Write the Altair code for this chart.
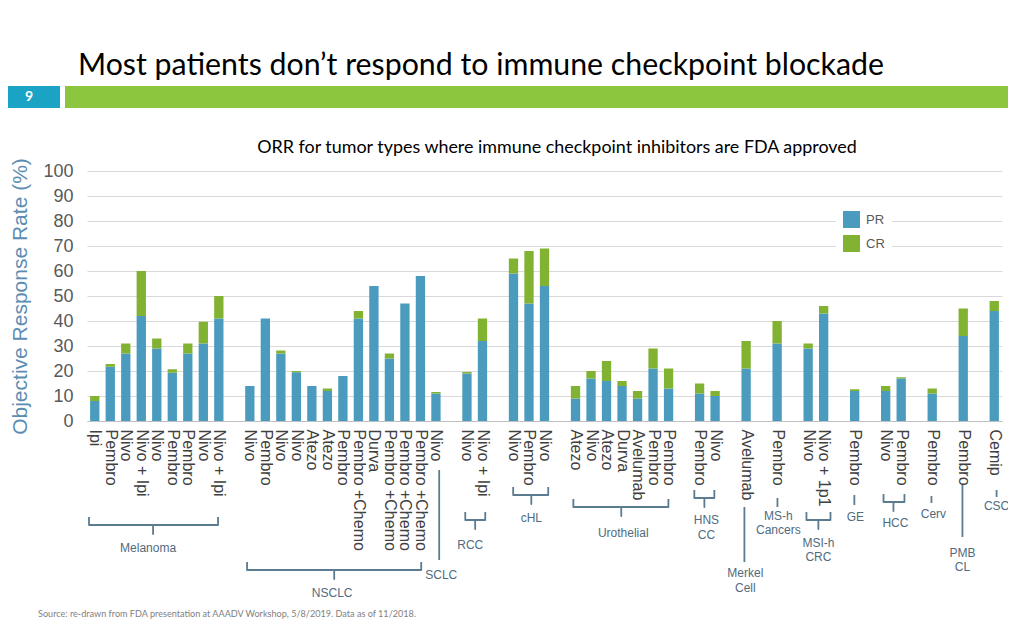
import altair as alt
import pandas as pd

# ---------------- data (one slot per category, "" = empty spacer slot) ----------------
labels = ["Ipi", "Pembro", "Nivo", "Nivo + Ipi", "Nivo", "Pembro", "Pembro", "Nivo", "Nivo + Ipi", "",
          "Nivo", "Pembro", "Nivo", "Nivo", "Atezo", "Atezo", "Pembro", "Pembro +Chemo", "Durva",
          "Pembro +Chemo", "Pembro +Chemo", "Pembro +Chemo",
          "Nivo", "",
          "Nivo", "Nivo + Ipi", "",
          "Nivo", "Pembro", "Nivo", "",
          "Atezo", "Nivo", "Atezo", "Durva", "Avelumab", "Pembro", "Pembro", "",
          "Pembro", "Nivo", "",
          "Avelumab", "",
          "Pembro", "",
          "Nivo", "Nivo + 1p1", "",
          "Pembro", "",
          "Nivo", "Pembro", "",
          "Pembro", "",
          "Pembro", "",
          "Cemip"]

pr = [8, 21.7, 27, 42, 29, 19.3, 27, 31, 41, None,
      14, 41, 27, 19.5, 14, 12, 18, 41, 54, 25, 47, 58,
      11, None,
      19, 32, None,
      59, 47, 54, None,
      9, 17, 16, 14, 9, 21, 13, None,
      11, 10, None,
      21, None,
      31, None,
      29, 43, None,
      12, None,
      12, 17, None,
      11, None,
      34, None,
      44]

cr = [2, 1.1, 4, 18, 4, 1.4, 4, 8.7, 9, None,
      0, 0, 1.2, 0.5, 0, 1, 0, 3, 0, 2, 0, 0,
      0.6, None,
      0.6, 9, None,
      6, 21, 15, None,
      5, 3, 8, 2, 3, 8, 8, None,
      4, 2, None,
      11, None,
      9, None,
      2, 3, None,
      0.7, None,
      2, 0.5, None,
      2, None,
      11, None,
      4]

series = ["PR", "CR"]
colors = ["#4A9BBD", "#82B232"]

# tumour-group annotations (in slot / value units)
brackets = [  # name lines, left, right, line level, tick position, label position, label levels
    (["Melanoma"], -0.37, 7.95, -41.6, 3.76, 3.44, [-50.8]),
    (["NSCLC"], 9.82, 21.05, -59.6, 15.44, 15.31, [-68.8]),
    (["RCC"], 23.89, 25.18, -39.6, 24.53, 24.21, [-49.6]),
    (["cHL"], 26.98, 29.24, -29.6, 28.15, 28.15, [-38.8]),
    (["Urothelial"], 30.86, 36.99, -34.4, 33.95, 34.08, [-44.8]),
    (["HNS", "CC"], 38.66, 39.95, -30.8, 39.31, 39.44, [-39.6, -45.6]),
    (["MSI-h", "CRC"], 45.89, 47.44, -39.6, 46.66, 46.66, [-48.8, -54.4]),
    (["HCC"], 50.86, 52.21, -32.4, 51.5, 51.63, [-40.8]),
]
stems = [  # name lines, position, top, bottom, label position, label levels
    (["SCLC"], 22.21, -19.6, -55.6, 22.34, [-61.6]),
    (["Merkel", "Cell"], 41.89, -34.4, -56.4, 41.95, [-60.8, -66.8]),
    (["MS-h", "Cancers"], 44.02, -30.8, -34.4, 44.08, [-38.0, -43.6]),
    (["GE"], 48.98, -29.6, -33.6, 49.05, [-38.4]),
    (["Cerv"], 53.95, -30.0, -32.8, 54.08, [-37.2]),
    (["PMB", "CL"], 55.95, -25.6, -46.4, 55.95, [-52.8, -58.4]),
    (["CSC"], 58.15, -27.6, -30.4, 58.15, [-34.0]),
]

# ---------------- tables ----------------
rows = []
for i, (p, c) in enumerate(zip(pr, cr)):
    if p is None:
        continue
    rows.append({"slot": i, "type": "PR", "lo": 0, "hi": p})
    if c and c > 0:
        rows.append({"slot": i, "type": "CR", "lo": p, "hi": p + c})
bars_df = pd.DataFrame(rows)

HOOK, TICK = 3.2, 3.6
line_rows, text_rows = [], []
g = 0
for names, x0, x1, lvl, tx, lx, lys in brackets:
    pts = [(x0, lvl + HOOK), (x0, lvl), (tx, lvl), (tx, lvl - TICK), (tx, lvl), (x1, lvl), (x1, lvl + HOOK)]
    for k, (sx, sv) in enumerate(pts):
        line_rows.append({"gid": g, "ord": k, "slot": sx, "v": sv})
    for nm, ly in zip(names, lys):
        text_rows.append({"slot": lx, "v": ly, "t": nm})
    g += 1
for names, sx, top, bot, lx, lys in stems:
    line_rows.append({"gid": g, "ord": 0, "slot": sx, "v": top})
    line_rows.append({"gid": g, "ord": 1, "slot": sx, "v": bot})
    for nm, ly in zip(names, lys):
        text_rows.append({"slot": lx, "v": ly, "t": nm})
    g += 1
lines_df = pd.DataFrame(line_rows)
text_df = pd.DataFrame(text_rows)

label_values = [i for i, l in enumerate(labels) if l]
label_expr = "[" + ",".join("'" + l + "'" for l in labels) + "][datum.value]"

AX_FONT = "Liberation Sans"
xscale = alt.Scale(domain=[-0.5, len(labels) - 0.5], nice=False, zero=False)
yscale = alt.Scale(domain=[0, 100], nice=False)

xaxis = alt.Axis(
    values=label_values, labelExpr=label_expr, labelAngle=90, labelAlign="left",
    labelBaseline="middle", labelFontSize=16, labelColor="#404040", labelFont=AX_FONT,
    labelPadding=8, ticks=False, grid=False, domainColor="#BFBFBF", domainWidth=1,
    title=None, labelOverlap=False, labelFlush=False, labelBound=False)
yaxis = alt.Axis(
    values=list(range(0, 101, 10)), grid=True, gridColor="#D9D9D9", gridWidth=1,
    domain=False, ticks=False, labelFontSize=18, labelColor="#595959", labelFont=AX_FONT,
    labelPadding=14, title="Objective Response Rate (%)", titleFontSize=21,
    titleColor="#5B8DB3", titleFontWeight="normal", titleFont=AX_FONT, titlePadding=12)

bars = alt.Chart(bars_df).transform_calculate(
    x0="datum.slot - 0.3", x1="datum.slot + 0.3"
).mark_bar().encode(
    x=alt.X("x0:Q", scale=xscale, axis=xaxis),
    x2="x1:Q",
    y=alt.Y("hi:Q", scale=yscale, axis=yaxis),
    y2="lo:Q",
    color=alt.Color("type:N", scale=alt.Scale(domain=series, range=colors), legend=alt.Legend(
        title=None, orient="none", legendX=749, legendY=33, symbolType="square",
        symbolSize=289, symbolStrokeWidth=0, labelFontSize=13, labelColor="#595959",
        labelFont=AX_FONT, fillColor="white", padding=7, rowPadding=7, labelOffset=6)),
)

ann_lines = alt.Chart(lines_df).mark_line(color="#5B7B90", strokeWidth=1.8, strokeJoin="round").encode(
    x=alt.X("slot:Q", scale=xscale, axis=xaxis),
    y=alt.Y("v:Q", scale=yscale, axis=yaxis),
    detail="gid:N", order="ord:Q")

ann_text = alt.Chart(text_df).mark_text(font=AX_FONT, fontSize=12, color="#4F6B80",
                                         baseline="middle", align="center").encode(
    x=alt.X("slot:Q", scale=xscale, axis=xaxis),
    y=alt.Y("v:Q", scale=yscale, axis=yaxis),
    text="t:N")

one = pd.DataFrame({"a": [0]})
teal = alt.Chart(one).mark_rect(color="#1BA3C6").encode(
    x=alt.value(-80), x2=alt.value(-27), y=alt.value(-85), y2=alt.value(-63))
green = alt.Chart(one).mark_rect(color="#8CC63F").encode(
    x=alt.value(-22), x2=alt.value(925), y=alt.value(-85), y2=alt.value(-63))
page_no = alt.Chart(one).mark_text(text="9", color="white", fontSize=14, fontWeight="bold",
                                   font="Lato", align="center", baseline="middle").encode(
    x=alt.value(-58), y=alt.value(-74))
slide_title = alt.Chart(one).mark_text(
    text="Most patients don’t respond to immune checkpoint blockade", font="Lato",
    fontSize=30.3, color="black", align="left", baseline="alphabetic").encode(
    x=alt.value(-9), y=alt.value(-96))
subtitle = alt.Chart(one).mark_text(
    text="ORR for tumor types where immune checkpoint inhibitors are FDA approved", font="Lato",
    fontSize=17.9, color="black", align="center", baseline="middle").encode(
    x=alt.value(470), y=alt.value(-23))
source = alt.Chart(one).mark_text(
    text="Source: re-drawn from FDA presentation at AAADV Workshop, 5/8/2019. Data as of 11/2018.",
    font="Lato", fontSize=9.1, color="#7F7F7F", align="left", baseline="middle").encode(
    x=alt.value(-49), y=alt.value(443))

chart = alt.layer(bars, ann_lines, ann_text, teal, green, page_no, slide_title, subtitle, source).properties(
    width=915, height=250,
    autosize=alt.AutoSizeParams(type="none"),
    padding={"left": 79, "top": 163, "right": 6, "bottom": 200},
    background="white",
).configure_view(stroke=None)

chart.save("out.html", embed_options={"renderer": "svg", "actions": False})
